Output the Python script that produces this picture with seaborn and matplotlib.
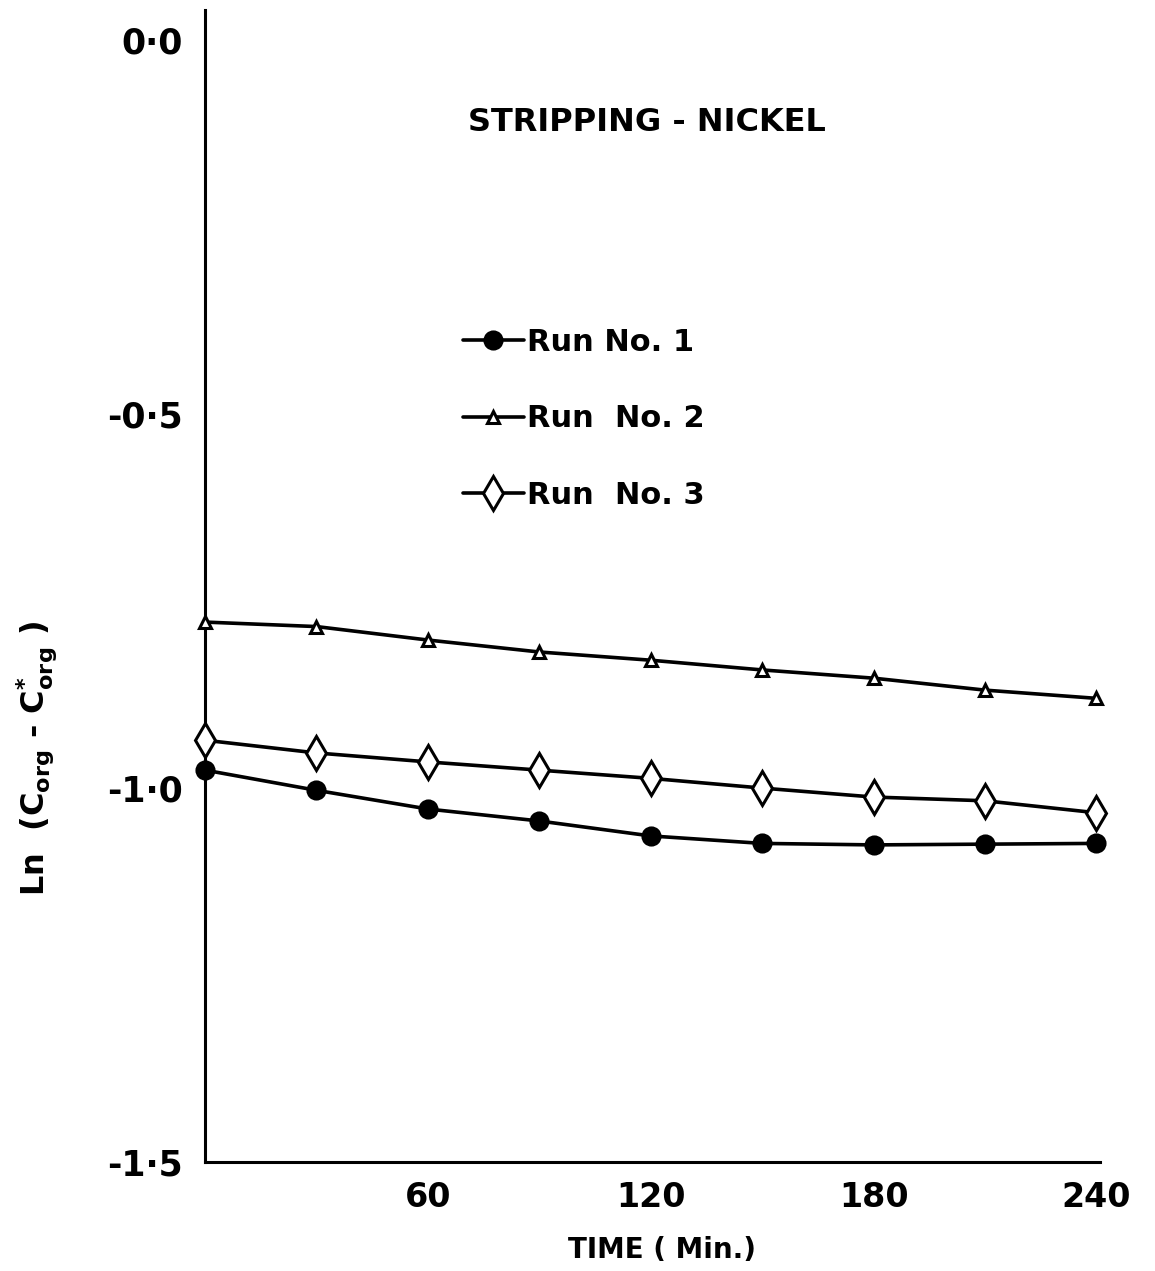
import numpy as np
import pandas as pd
import matplotlib
matplotlib.use("Agg")
import matplotlib.pyplot as plt
import seaborn as sns

# ---- data ----
time_min = [0, 30, 60, 90, 120, 150, 180, 210, 240]
run1 = [-0.976, -1.003, -1.028, -1.044, -1.064, -1.074, -1.076, -1.075, -1.074]
run2 = [-0.778, -0.784, -0.802, -0.818, -0.829, -0.842, -0.853, -0.869, -0.880]
run3 = [-0.936, -0.953, -0.965, -0.976, -0.987, -1.000, -1.012, -1.017, -1.033]
series_names = ["Run No. 1", "Run  No. 2", "Run  No. 3"]
x_ticks = [60, 120, 180, 240]
y_ticks = [0.0, -0.5, -1.0, -1.5]
y_ticklabels = ["0·0", "-0·5", "-1·0", "-1·5"]

sns.set_style("white")
plt.rcParams["font.family"] = ["DejaVu Sans"]
plt.rcParams["font.weight"] = "bold"
plt.rcParams["text.color"] = "black"
plt.rcParams["axes.labelcolor"] = "black"
plt.rcParams["xtick.color"] = "black"
plt.rcParams["ytick.color"] = "black"
plt.rcParams["axes.labelweight"] = "bold"
plt.rcParams["mathtext.fontset"] = "dejavusans"

fig = plt.figure(figsize=(11.55, 12.71), dpi=100)
ax = fig.add_axes([0.1775, 0.0858, 0.775, 0.906])

styles = [
    dict(marker="o", markersize=13, markerfacecolor="black", markeredgecolor="black", markeredgewidth=1.5),
    dict(marker="^", markersize=9, markerfacecolor="white", markeredgecolor="black", markeredgewidth=2.2),
    dict(marker="d", markersize=17, markerfacecolor="white", markeredgecolor="black", markeredgewidth=2.2),
]
for name, vals, st in zip(series_names, [run1, run2, run3], styles):
    df = pd.DataFrame({"t": time_min, "v": vals})
    sns.lineplot(data=df, x="t", y="v", ax=ax, color="black", linewidth=2.6,
                 label=name, clip_on=False, zorder=3, **st)

ax.set_xlim(0, 241)
ax.set_ylim(-1.5, 0.04)
ax.set_xticks(x_ticks)
ax.set_xticklabels([str(t) for t in x_ticks])
ax.set_yticks(y_ticks)
ax.set_yticklabels(y_ticklabels)

for s in ["top", "right"]:
    ax.spines[s].set_visible(False)
for s in ["left", "bottom"]:
    ax.spines[s].set_linewidth(2.2)
    ax.spines[s].set_color("black")

ax.tick_params(axis="y", direction="in", length=22, width=2.2, pad=16, labelsize=25)
ax.tick_params(axis="x", direction="in", length=16, width=2.2, pad=14, labelsize=24)

ax.set_xlabel("TIME ( Min.)", fontsize=20, fontweight="bold")
ax.xaxis.set_label_coords(0.51, -0.064)
ax.set_ylabel(r"Ln  ($\mathbf{C_{org}}$ - $\mathbf{C^{*}_{org}}$ )", fontsize=23, fontweight="bold")
ax.yaxis.set_label_coords(-0.163, 0.35)

ax.text(0.494, 0.903, "STRIPPING - NICKEL", transform=ax.transAxes,
        ha="center", va="center", fontsize=23, fontweight="bold")

leg = ax.legend(loc="upper left", bbox_to_anchor=(0.257, 0.748), frameon=False,
                fontsize=22, handlelength=2.0, handletextpad=0.1, labelspacing=1.55)

fig.savefig("out.png", dpi=100, facecolor="white")
